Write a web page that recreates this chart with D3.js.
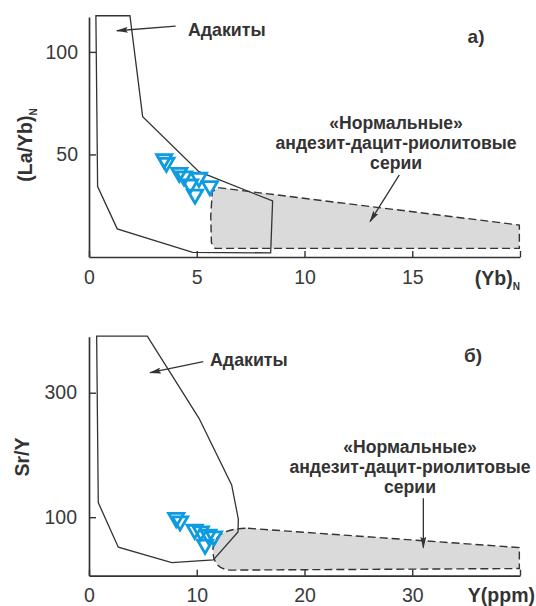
<!DOCTYPE html>
<html><head><meta charset="utf-8">
<script src="https://cdn.jsdelivr.net/npm/d3@7"></script>
<style>body{margin:0;background:#fff}</style>
</head><body>
<script>
// ---------- Panel а) : (La/Yb)N vs (Yb)N ----------
const adakiteA_x = [0.32, 1.9, 2.49, 5.1, 8.52, 8.43, 4.81, 1.31, 0.4];
const adakiteA_y = [117.6, 117.6, 68.4, 41.6, 27.3, 2.0, 2.3, 13.7, 34.3];
const normalA_x  = [6.0, 19.97, 19.97, 5.85, 5.68, 5.65, 5.72];
const normalA_y  = [33.8, 15.6, 4.2, 4.2, 7.0, 20.0, 31.8];
const samplesA_x = [3.49, 3.59, 4.19, 4.41, 5.10, 4.69, 5.61, 4.92];
const samplesA_y = [47.8, 46.0, 41.1, 39.4, 38.7, 35.4, 34.6, 30.5];
const ticksA_x = [0, 5, 10, 15, 20];
const ticksA_y = [50, 100];

// ---------- Panel б) : Sr/Y vs Y(ppm) ----------
const adakiteB_x = [0.71, 5.41, 10.21, 13.24, 13.86, 13.83, 11.54, 7.68, 2.72, 0.86];
const adakiteB_y = [391, 391, 258.9, 151.8, 96.8, 76.4, 31.5, 27.1, 51.8, 123.4];
// normal field: top-left, top-right, bottom-right, bottom-left, arc control, leftmost, arc control
const normalB_x  = [14.76, 39.94, 39.94, 13.3, 11.5, 11.5, 11.5];
const normalB_y  = [82.2, 51.2, 17.5, 15.0, 15.0, 47.2, 82.2];
const samplesB_x = [8.09, 8.45, 9.81, 10.38, 11.07, 11.60, 10.77];
const samplesB_y = [99, 93.5, 80, 77.5, 72, 69.5, 56];
const ticksB_x = [0, 10, 20, 30, 40];
const ticksB_y = [100, 300];

const W = 536, H = 606;
const ink = "#333";
const blue = "#0f9be0";
const svg = d3.select("body").append("svg").attr("width", W).attr("height", H)
  .style("font-family", "'Liberation Sans', Arial, sans-serif");

const xA = d3.scaleLinear().domain([0, 20]).range([89, 520]);
const yA = d3.scaleLinear().domain([0, 117]).range([257, 17]);
const xB = d3.scaleLinear().domain([0, 40]).range([89, 520]);
const yB = d3.scaleLinear().domain([6, 390]).range([575.7, 336.7]);

function zip(xs, ys) { return xs.map((d, i) => [d, ys[i]]); }

function drawAxes(g, x, y, tx, ty, padX, padY) {
  const ax = d3.axisBottom(x).tickValues(tx).tickSize(-6).tickSizeOuter(0).tickPadding(padX)
    .tickFormat(d => d === tx[tx.length - 1] ? "" : d);
  const ay = d3.axisLeft(y).tickValues(ty).tickSize(-7).tickSizeOuter(0).tickPadding(padY);
  const gx = g.append("g").attr("transform", `translate(0,${y.range()[0]})`).call(ax);
  const gy = g.append("g").attr("transform", `translate(${x.range()[0]},0)`).call(ay);
  [gx, gy].forEach(a => {
    a.selectAll("path.domain").attr("stroke", ink).attr("stroke-width", 1.7);
    a.selectAll(".tick line").attr("stroke", ink).attr("stroke-width", 1.4);
    a.selectAll(".tick text").attr("fill", "#3a3a3a").style("font-size", "19.5px")
      .style("font-family", "'Liberation Sans', Arial, sans-serif");
  });
}

const defs = svg.append("defs");
defs.append("marker").attr("id", "arr").attr("viewBox", "0 0 12 6").attr("refX", 11).attr("refY", 3)
  .attr("markerWidth", 12).attr("markerHeight", 6).attr("markerUnits", "userSpaceOnUse").attr("orient", "auto")
  .append("path").attr("d", "M0,0 L12,3 L0,6 L2,3 Z").attr("fill", ink);

function tri(g, x, y, xs, ys) {
  const sym = d3.symbol().type(d3.symbolTriangle).size(100);
  g.selectAll(null).data(zip(xs, ys)).enter().append("path")
    .attr("d", sym)
    .attr("transform", d => `translate(${x(d[0])},${y(d[1])}) rotate(180)`)
    .attr("fill", "none").attr("stroke", blue).attr("stroke-width", 2.8)
    .attr("stroke-linejoin", "miter");
}

function arrow(g, x1, y1, x2, y2) {
  g.append("line").attr("x1", x1).attr("y1", y1).attr("x2", x2).attr("y2", y2)
    .attr("stroke", ink).attr("stroke-width", 1.3).attr("marker-end", "url(#arr)");
}

function label(g, x, y, lines, anchor, size) {
  const t = g.append("text").attr("x", x).attr("y", y).attr("text-anchor", anchor)
    .attr("fill", ink).style("font-weight", "bold").style("font-size", size + "px");
  lines.forEach((l, i) => t.append("tspan").attr("x", x).attr("dy", i === 0 ? "0.35em" : "1.13em").text(l));
}

// ===== Panel а =====
const gA = svg.append("g");
gA.append("path").datum(zip(normalA_x, normalA_y))
  .attr("d", d3.line().x(d => xA(d[0])).y(d => yA(d[1])).curve(d3.curveLinearClosed))
  .attr("fill", "#dadada").attr("stroke", ink).attr("stroke-width", 1.4).attr("stroke-dasharray", "8,4");
gA.append("path").datum(zip(adakiteA_x, adakiteA_y))
  .attr("d", d3.line().x(d => xA(d[0])).y(d => yA(d[1])).curve(d3.curveLinearClosed))
  .attr("fill", "none").attr("stroke", ink).attr("stroke-width", 1.3);
drawAxes(gA, xA, yA, ticksA_x, ticksA_y, 13, 11);
tri(gA, xA, yA, samplesA_x, samplesA_y);

label(gA, xA(4.59), yA(110.7), ["Адакиты"], "start", 17.8);
arrow(gA, xA(4.02), yA(112.6), xA(1.29), yA(110.3));
label(gA, xA(17.96), yA(107.7), ["а)"], "middle", 19);
label(gA, xA(14.25), yA(65.3), ["«Нормальные»", "андезит-дацит-риолитовые", "серии"], "middle", 17.6);
arrow(gA, xA(14.4), yA(40), xA(13.04), yA(17.2));
// axis titles
const tA = gA.append("text").attr("x", 520).attr("y", 278).attr("dy", "0.35em").attr("text-anchor", "end")
  .attr("fill", ink).style("font-weight", "bold").style("font-size", "19.5px");
tA.append("tspan").text("(Yb)");
tA.append("tspan").attr("dy", "5").style("font-size", "10px").text("N");
const tAy = gA.append("text").attr("transform", "translate(25,145) rotate(-90)").attr("text-anchor", "middle")
  .attr("dy", "0.35em").attr("fill", ink).style("font-weight", "bold").style("font-size", "19.5px");
tAy.append("tspan").text("(La/Yb)");
tAy.append("tspan").attr("dy", "5").style("font-size", "10px").text("N");

// ===== Panel б =====
const gB = svg.append("g");
{
  const p = d3.path();
  const P = i => [xB(normalB_x[i]), yB(normalB_y[i])];
  p.moveTo(...P(0)); p.lineTo(...P(1)); p.lineTo(...P(2)); p.lineTo(...P(3));
  p.quadraticCurveTo(...P(4), ...P(5));
  p.quadraticCurveTo(...P(6), ...P(0));
  p.closePath();
  gB.append("path").attr("d", p.toString())
    .attr("fill", "#dadada").attr("stroke", ink).attr("stroke-width", 1.4).attr("stroke-dasharray", "8,4");
}
gB.append("path").datum(zip(adakiteB_x, adakiteB_y))
  .attr("d", d3.line().x(d => xB(d[0])).y(d => yB(d[1])).curve(d3.curveLinearClosed))
  .attr("fill", "none").attr("stroke", ink).attr("stroke-width", 1.3);
drawAxes(gB, xB, yB, ticksB_x, ticksB_y, 12, 12);
tri(gB, xB, yB, samplesB_x, samplesB_y);

label(gB, xB(11.23), yB(352.6), ["Адакиты"], "start", 17.8);
arrow(gB, xB(10.61), yB(349.8), xB(5.66), yB(332.2));
label(gB, xB(35.64), yB(360.6), ["б)"], "middle", 19);
label(gB, xB(29.79), yB(213.3), ["«Нормальные»", "андезит-дацит-риолитовые", "серии"], "middle", 17.6);
arrow(gB, xB(31.03), yB(130.4), xB(31.03), yB(51));
gB.append("text").attr("x", 535).attr("y", 595).attr("dy", "0.35em").attr("text-anchor", "end")
  .attr("fill", ink).style("font-weight", "bold").style("font-size", "19.5px").text("Y(ppm)");
gB.append("text").attr("transform", "translate(22,457) rotate(-90)").attr("text-anchor", "middle")
  .attr("dy", "0.35em").attr("fill", ink).style("font-weight", "bold").style("font-size", "19.5px").text("Sr/Y");
</script>
</body></html>
